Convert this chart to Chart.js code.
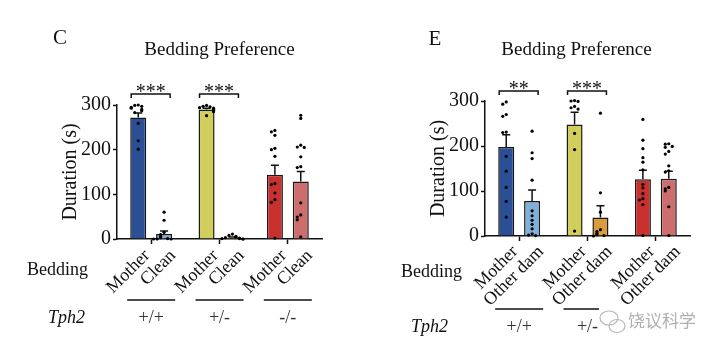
<!DOCTYPE html>
<html>
<head>
<meta charset="utf-8">
<script src="https://cdn.jsdelivr.net/npm/chart.js@4.4.1/dist/chart.umd.min.js"></script>
<style>
  html, body { margin: 0; padding: 0; background: #fff; }
  #wrap { position: relative; width: 718px; height: 352px; }
  canvas { position: absolute; top: 0; }
</style>
</head>
<body>
<div id="wrap">
  <canvas id="panelC" width="359" height="352" style="left:0"></canvas>
  <canvas id="panelE" width="359" height="352" style="left:359px"></canvas>
</div>
<script>
// groups / bedding types
const genotypes = ['+/+', '+/-', '-/-'];
const beddingC = ['Mother', 'Clean'];
const beddingE = ['Mother', 'Other dam'];
const yTicks = [0, 100, 200, 300];

// panel C : mother vs clean bedding
const cMotherMean = [272, 290, 144];
const cMotherSem = [10, 3, 21];
const cCleanMean = [11, 3, 129];
const cCleanSem = [7, 1.5, 22];
const cMotherPts = [
  [300, 299, 297, 295, 293, 290, 287, 283, 259, 220, 201],
  [299, 297, 296, 294, 293, 291, 290, 289, 287, 285, 276],
  [243, 240, 232, 203, 200, 185, 124, 122, 103, 88, 82, 2]
];
const cCleanPts = [
  [60, 42, 15, 10, 6, 3, 1, 0, 0, 0],
  [11, 8, 6, 4, 3, 2, 1, 1, 0, 0],
  [277, 270, 210, 206, 205, 184, 162, 160, 81, 54, 49, 43, 5]
];
const cStars = ['***', '***', ''];

// panel E : mother vs other dam bedding
const eMotherMean = [198, 248, 126];
const eMotherSem = [27, 27, 20];
const eOtherMean = [78, 41, 127];
const eOtherSem = [24, 26, 17];
const eMotherPts = [
  [298, 293, 270, 266, 231, 230, 177, 144, 108, 77, 42],
  [301, 300, 299, 288, 285, 282, 228, 192, 11],
  [259, 213, 194, 174, 164, 147, 115, 107, 94, 83, 80, 70, 1]
];
const eOtherPts = [
  [233, 185, 172, 124, 56, 45, 35, 26, 16, 5, 2, 1],
  [273, 96, 53, 14, 10, 6, 3, 1, 0],
  [205, 204, 199, 197, 188, 182, 156, 145, 142, 108, 105, 100, 65, 1]
];
const eStars = ['**', '***', ''];

const motherColors = ['#2a4f94', '#d1ce5b', '#c8312e'];
const otherColors = ['#7fb0da', '#d99b3e', '#cd6d6e'];

const serif = '"Liberation Serif", "Times New Roman", serif';
Chart.defaults.font.family = serif;

function text(ctx, s, x, y, font, align, base, color) {
  ctx.font = font;
  ctx.textAlign = align;
  ctx.textBaseline = base;
  ctx.fillStyle = color || '#111';
  ctx.fillText(s, x, y);
}

// little beeswarm so dots at the same height sit side by side
function spread(vals, yScale) {
  const placed = [];
  const steps = [0, -3.5, 3.5, -7, 7, -10.5, 10.5];
  return vals.map(v => {
    const py = yScale.getPixelForValue(v);
    const near = placed.filter(q => Math.abs(q - py) < 3).length;
    placed.push(py);
    return steps[Math.min(near, steps.length - 1)];
  });
}

function makePanel(id, p) {
  const overlay = {
    id: 'overlay',
    afterDatasetsDraw(chart) {
      const ctx = chart.ctx;
      const ys = chart.scales.y;
      ctx.save();
      [0, 1].forEach(d => {
        chart.getDatasetMeta(d).data.forEach((bar, i) => {
          const top = ys.getPixelForValue(p.means[d][i] + p.sems[d][i]);
          ctx.strokeStyle = '#111';
          ctx.lineWidth = 1.5;
          ctx.beginPath();
          ctx.moveTo(bar.x, bar.y);
          ctx.lineTo(bar.x, top);
          ctx.moveTo(bar.x - 4, top);
          ctx.lineTo(bar.x + 4, top);
          ctx.stroke();

          const pts = p.points[d][i];
          const offs = spread(pts, ys);
          ctx.fillStyle = '#000';
          pts.forEach((v, k) => {
            ctx.beginPath();
            ctx.arc(bar.x + offs[k], ys.getPixelForValue(v), 1.6, 0, Math.PI * 2);
            ctx.fill();
          });
        });
      });
      ctx.restore();
    },
    afterDraw(chart) {
      const ctx = chart.ctx;
      const area = chart.chartArea;
      const xs = chart.scales.x;
      const m0 = chart.getDatasetMeta(0).data;
      const m1 = chart.getDatasetMeta(1).data;
      ctx.save();

      // panel letter + title
      text(ctx, p.letter, p.letterX, p.letterY, '21px ' + serif, 'center', 'alphabetic', '#111');
      text(ctx, 'Bedding Preference', (area.left + area.right) / 2 + p.titleDx, p.titleY,
        '19px ' + serif, 'center', 'alphabetic', '#111');

      // significance brackets
      p.stars.forEach((s, i) => {
        if (!s) return;
        const x1 = m0[i].x - m0[i].width / 2 + 1;
        const x2 = m1[i].x + 6;
        const by = area.top - p.bracketUp;
        ctx.strokeStyle = '#111';
        ctx.lineWidth = 1.5;
        ctx.beginPath();
        ctx.moveTo(x1, by + 4);
        ctx.lineTo(x1, by);
        ctx.lineTo(x2, by);
        ctx.lineTo(x2, by + 4);
        ctx.stroke();
        text(ctx, s, (x1 + x2) / 2, by + 4, '20px ' + serif, 'center', 'alphabetic', '#111');
      });

      // rotated bedding labels under each bar
      [m0, m1].forEach((bars, d) => {
        bars.forEach(bar => {
          ctx.save();
          ctx.translate(bar.x + p.labelDx, area.bottom + p.labelDy);
          ctx.rotate(-Math.PI / 4);
          text(ctx, p.bedding[d], 0, 0, '18px ' + serif, 'right', 'middle', '#111');
          ctx.restore();
        });
      });
      text(ctx, 'Bedding', p.beddingX, p.beddingY, '18px ' + serif, 'right', 'alphabetic', '#111');

      // genotype lines and labels
      genotypes.forEach((g, i) => {
        const cx = xs.getPixelForValue(i);
        ctx.strokeStyle = '#111';
        ctx.lineWidth = 1.5;
        ctx.beginPath();
        ctx.moveTo(cx - 24, p.lineY);
        ctx.lineTo(cx + 24, p.lineY);
        ctx.stroke();
        text(ctx, g, cx, p.groupY, '18px ' + serif, 'center', 'middle', '#333');
      });
      text(ctx, 'Tph2', p.tphX, p.groupY, 'italic 18px ' + serif, 'right', 'middle', '#111');

      if (p.watermark) {
        ctx.fillStyle = '#fff';
        ctx.fillRect(240, 308, 96, 28);
        ctx.strokeStyle = '#b8b8b8';
        ctx.lineWidth = 1.2;
        ctx.beginPath();
        ctx.ellipse(250, 318, 9, 7, 0, 0, Math.PI * 2);
        ctx.stroke();
        ctx.beginPath();
        ctx.ellipse(258, 326, 8, 6.5, 0, 0, Math.PI * 2);
        ctx.stroke();
        text(ctx, '饶议科学', 269, 321, '17px "Noto Sans CJK SC", sans-serif', 'left', 'middle', '#b0b0b0');
      }
      ctx.restore();
    }
  };

  return new Chart(document.getElementById(id), {
    type: 'bar',
    data: {
      labels: genotypes,
      datasets: [
        {
          label: p.bedding[0],
          data: p.means[0],
          backgroundColor: motherColors,
          borderColor: '#1a1a1a',
          borderWidth: 1.5
        },
        {
          label: p.bedding[1],
          data: p.means[1],
          backgroundColor: otherColors,
          borderColor: '#1a1a1a',
          borderWidth: 1.5
        }
      ]
    },
    options: {
      responsive: false,
      animation: false,
      layout: { padding: p.padding },
      datasets: { bar: { categoryPercentage: 0.757, barPercentage: 0.62 } },
      plugins: { legend: { display: false }, tooltip: { enabled: false } },
      scales: {
        x: {
          offset: true,
          grid: { offset: false, drawOnChartArea: false, tickLength: 5, tickWidth: 1.5, tickColor: '#111' },
          border: { color: '#111', width: 1.5 },
          ticks: { display: false }
        },
        y: {
          min: 0,
          max: 300,
          afterBuildTicks: s => { s.ticks = yTicks.map(v => ({ value: v })); },
          ticks: { color: '#111', font: { size: 20 }, padding: 2 },
          grid: { drawOnChartArea: false, tickLength: 4, tickWidth: 1.5, tickColor: '#111' },
          border: { color: '#111', width: 1.5 },
          title: {
            display: true,
            text: 'Duration (s)',
            color: '#111',
            font: { size: 20 },
            padding: { top: 4, bottom: -4 }
          }
        }
      }
    },
    plugins: [overlay]
  });
}

makePanel('panelC', {
  letter: 'C', letterX: 60, letterY: 44,
  titleDx: 0, titleY: 55,
  bedding: beddingC,
  means: [cMotherMean, cCleanMean],
  sems: [cMotherSem, cCleanSem],
  points: [cMotherPts, cCleanPts],
  stars: cStars, bracketUp: 11,
  padding: { left: 55, right: 37, top: 105, bottom: 108 },
  labelDx: 9, labelDy: 14,
  beddingX: 88, beddingY: 275,
  lineY: 300, groupY: 318, tphX: 85,
  watermark: false
});

makePanel('panelE', {
  letter: 'E', letterX: 76, letterY: 45,
  titleDx: -11, titleY: 55,
  bedding: beddingE,
  means: [eMotherMean, eOtherMean],
  sems: [eMotherSem, eOtherSem],
  points: [eMotherPts, eOtherPts],
  stars: eStars, bracketUp: 10,
  padding: { left: 64, right: 28, top: 101, bottom: 111 },
  labelDx: 9, labelDy: 13,
  beddingX: 103, beddingY: 277,
  lineY: 309, groupY: 327, tphX: 89,
  watermark: true
});
</script>
</body>
</html>
